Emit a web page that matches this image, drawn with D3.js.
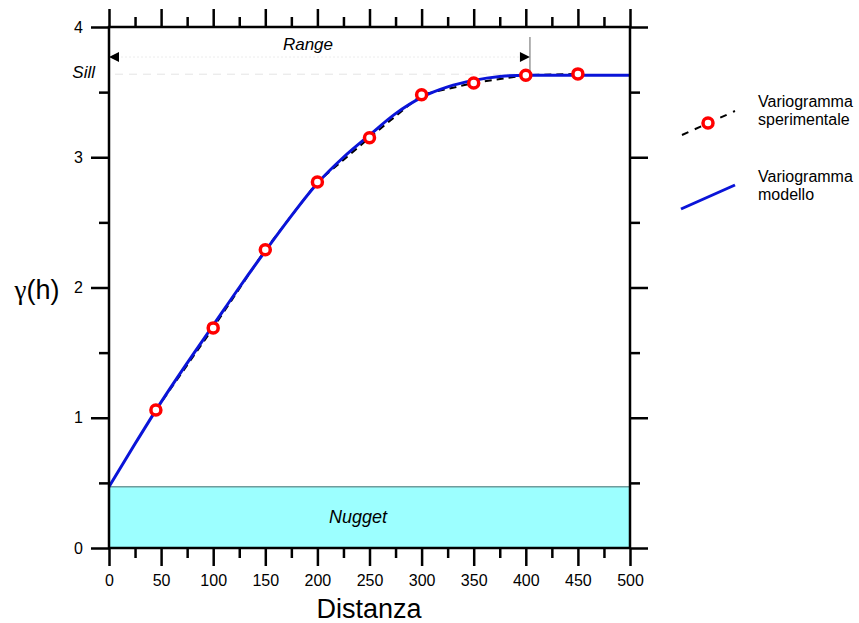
<!DOCTYPE html>
<html>
<head>
<meta charset="utf-8">
<script src="https://cdn.jsdelivr.net/npm/d3@7"></script>
<style>
  html, body { margin: 0; padding: 0; background: #fff; }
  svg { display: block; font-family: "Liberation Sans", Arial, sans-serif; }
</style>
</head>
<body>
<svg id="chart" width="859" height="623"></svg>
<script>
// ── Data ──────────────────────────────────────────────────────────────────────
const expDist   = [45, 100, 150, 200, 250, 300, 350, 400, 450];
const expGamma  = [1.06, 1.69, 2.29, 2.81, 3.15, 3.48, 3.57, 3.63, 3.64];

const modDist   = [0, 25, 50, 75, 100, 125, 150, 175, 200, 225, 250, 275, 300, 325, 350, 375, 400, 450, 500];
const modGamma  = [0.47, 0.80, 1.12, 1.42, 1.71, 2.00, 2.28, 2.55, 2.80, 3.00, 3.17, 3.335, 3.46, 3.54, 3.59, 3.62, 3.63, 3.63, 3.63];

const nugget    = 0.47;
const sill      = 3.63;
const range     = 404;

const xMajor    = [0, 50, 100, 150, 200, 250, 300, 350, 400, 450, 500];
const xMinor    = [25, 75, 125, 175, 225, 275, 325, 375, 425, 475];
const yMajor    = [0, 1, 2, 3, 4];
const yMinor    = [0.5, 1.5, 2.5, 3.5];

const legendLabels = [['Variogramma', 'sperimentale'], ['Variogramma', 'modello']];

// ── Layout ────────────────────────────────────────────────────────────────────
const X0 = 109, X1 = 630, Y0 = 548, Y1 = 27;
const MAJOR = 18, MINOR = 10;
const BLUE = '#0a14d8';

const svg = d3.select('#chart');
const x = d3.scaleLinear().domain([0, 500]).range([X0, X1]);
const y = d3.scaleLinear().domain([0, 4]).range([Y0, Y1]);

// ── Nugget band ───────────────────────────────────────────────────────────────
svg.append('rect')
  .attr('x', x(0)).attr('y', y(nugget))
  .attr('width', x(500) - x(0)).attr('height', y(0) - y(nugget))
  .attr('fill', '#9cffff');
svg.append('line')
  .attr('x1', x(0)).attr('x2', x(500))
  .attr('y1', y(nugget)).attr('y2', y(nugget))
  .attr('stroke', '#6f9c9c').attr('stroke-width', 1.5);
svg.append('text')
  .attr('x', 358).attr('y', (y(nugget) + y(0)) / 2 + 6)
  .attr('text-anchor', 'middle')
  .attr('font-size', 18).attr('font-style', 'italic')
  .text('Nugget');

// ── Sill & range annotations ─────────────────────────────────────────────────
svg.append('line')
  .attr('x1', x(0) + 6).attr('x2', x(range))
  .attr('y1', y(sill) - 1).attr('y2', y(sill) - 1)
  .attr('stroke', '#e4e4e4').attr('stroke-width', 1)
  .attr('stroke-dasharray', '8,6');
svg.append('text')
  .attr('x', 95).attr('y', 78)
  .attr('text-anchor', 'end')
  .attr('font-size', 17).attr('font-style', 'italic')
  .text('Sill');

const rangeY = 57;
svg.append('line')
  .attr('x1', x(0)).attr('x2', x(range))
  .attr('y1', rangeY).attr('y2', rangeY)
  .attr('stroke', '#ececec').attr('stroke-width', 1)
  .attr('stroke-dasharray', '2,2');
svg.append('path')
  .attr('d', `M${x(0)},${rangeY} l10,-5 l0,10 Z`)
  .attr('fill', '#000');
svg.append('path')
  .attr('d', `M${x(range)},${rangeY} l-10,-5 l0,10 Z`)
  .attr('fill', '#000');
svg.append('line')
  .attr('x1', x(range)).attr('x2', x(range))
  .attr('y1', 37).attr('y2', y(sill))
  .attr('stroke', '#666').attr('stroke-width', 1);
svg.append('text')
  .attr('x', 308).attr('y', 50)
  .attr('text-anchor', 'middle')
  .attr('font-size', 17).attr('font-style', 'italic')
  .text('Range');

// ── Curves ────────────────────────────────────────────────────────────────────
const expPts = expDist.map((d, i) => [d, expGamma[i]]);
const modPts = modDist.map((d, i) => [d, modGamma[i]]);

svg.append('path')
  .datum(expPts)
  .attr('fill', 'none')
  .attr('stroke', '#000').attr('stroke-width', 2)
  .attr('stroke-dasharray', '7,5')
  .attr('d', d3.line().x(d => x(d[0])).y(d => y(d[1])));

svg.append('path')
  .datum(modPts)
  .attr('fill', 'none')
  .attr('stroke', BLUE).attr('stroke-width', 3)
  .attr('d', d3.line().curve(d3.curveMonotoneX).x(d => x(d[0])).y(d => y(d[1])));

svg.selectAll('.pt')
  .data(expPts)
  .join('circle')
  .attr('class', 'pt')
  .attr('cx', d => x(d[0])).attr('cy', d => y(d[1]))
  .attr('r', 5)
  .attr('fill', '#fff').attr('stroke', '#f00').attr('stroke-width', 3.5);

// ── Axes ─────────────────────────────────────────────────────────────────────
function styleAxis(g) {
  g.select('.domain').remove();
  g.selectAll('.tick line').attr('stroke', '#000').attr('stroke-width', 2.5);
  g.selectAll('.tick text').attr('fill', '#000').attr('font-size', 16)
    .attr('font-family', '"Liberation Sans", Arial, sans-serif');
}

svg.append('g').attr('transform', `translate(0,${Y0})`)
  .call(d3.axisBottom(x).tickValues(xMajor).tickSize(MAJOR).tickPadding(9).tickFormat(d3.format('d')))
  .call(styleAxis);
svg.append('g').attr('transform', `translate(0,${Y0})`)
  .call(d3.axisBottom(x).tickValues(xMinor).tickSize(MINOR).tickFormat(''))
  .call(styleAxis);
svg.append('g').attr('transform', `translate(0,${Y1})`)
  .call(d3.axisTop(x).tickValues(xMajor).tickSize(MAJOR).tickFormat(''))
  .call(styleAxis);
svg.append('g').attr('transform', `translate(0,${Y1})`)
  .call(d3.axisTop(x).tickValues(xMinor).tickSize(MINOR).tickFormat(''))
  .call(styleAxis);

svg.append('g').attr('transform', `translate(${X0},0)`)
  .call(d3.axisLeft(y).tickValues(yMajor).tickSize(MAJOR).tickPadding(8).tickFormat(d3.format('d')))
  .call(styleAxis);
svg.append('g').attr('transform', `translate(${X0},0)`)
  .call(d3.axisLeft(y).tickValues(yMinor).tickSize(MINOR).tickFormat(''))
  .call(styleAxis);
svg.append('g').attr('transform', `translate(${X1},0)`)
  .call(d3.axisRight(y).tickValues(yMajor).tickSize(MAJOR).tickFormat(''))
  .call(styleAxis);
svg.append('g').attr('transform', `translate(${X1},0)`)
  .call(d3.axisRight(y).tickValues(yMinor).tickSize(MINOR).tickFormat(''))
  .call(styleAxis);

// frame
svg.append('rect')
  .attr('x', X0).attr('y', Y1)
  .attr('width', X1 - X0).attr('height', Y0 - Y1)
  .attr('fill', 'none').attr('stroke', '#000').attr('stroke-width', 2.5);

// axis titles
svg.append('text')
  .attr('x', 369).attr('y', 618)
  .attr('text-anchor', 'middle')
  .attr('font-size', 27)
  .text('Distanza');
const yTitle = svg.append('text')
  .attr('x', 37).attr('y', 299)
  .attr('text-anchor', 'middle')
  .attr('font-size', 27);
yTitle.append('tspan').attr('font-family', '"Liberation Serif", serif').text('γ');
yTitle.append('tspan').text('(h)');

// ── Legend ───────────────────────────────────────────────────────────────────
const leg = svg.append('g');
leg.append('line')
  .attr('x1', 682).attr('y1', 135).attr('x2', 735).attr('y2', 111)
  .attr('stroke', '#000').attr('stroke-width', 2).attr('stroke-dasharray', '7,7');
leg.append('circle')
  .attr('cx', 708).attr('cy', 123).attr('r', 5)
  .attr('fill', '#fff').attr('stroke', '#f00').attr('stroke-width', 3.5);
leg.append('line')
  .attr('x1', 681).attr('y1', 209).attr('x2', 735).attr('y2', 185)
  .attr('stroke', BLUE).attr('stroke-width', 3);

const legTop = [107, 182];
legendLabels.forEach((lines, i) => {
  lines.forEach((t, j) => {
    leg.append('text')
      .attr('x', 758).attr('y', legTop[i] + j * 18)
      .attr('font-size', 16)
      .text(t);
  });
});
</script>
</body>
</html>
